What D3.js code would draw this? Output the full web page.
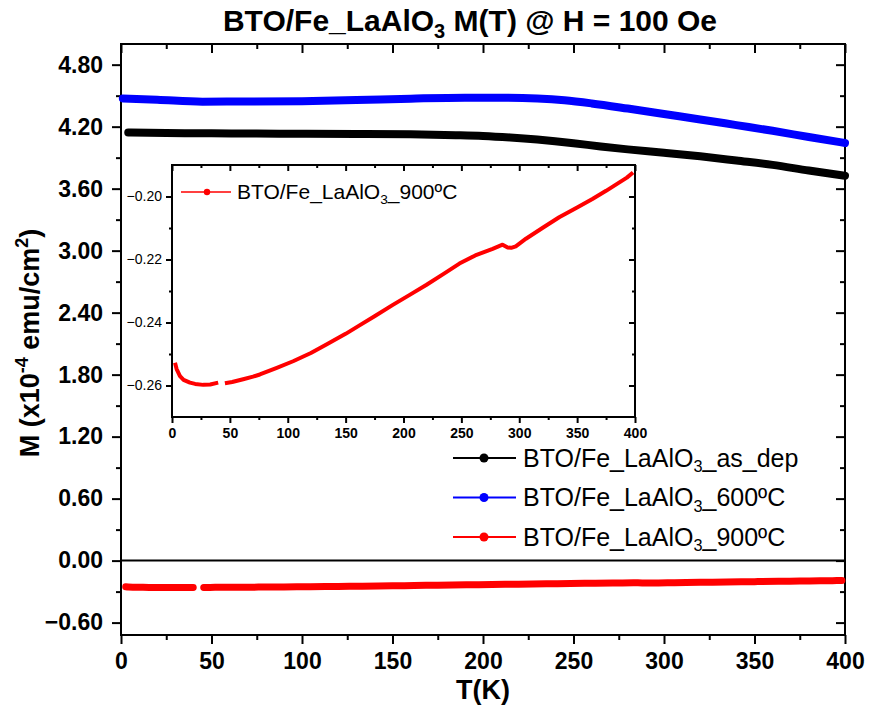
<!DOCTYPE html>
<html>
<head>
<meta charset="utf-8">
<script src="https://cdn.jsdelivr.net/npm/d3@7"></script>
<style>
  body { margin: 0; background: #fff; }
  svg { display: block; font-family: "Liberation Sans", Arial, sans-serif; }
  .axis path, .axis line { stroke: #000; stroke-width: 2; }
  .axis text { fill: #000; font-weight: bold; font-family: "Liberation Sans", Arial, sans-serif; }
</style>
</head>
<body>
<svg id="chart" width="869" height="706"></svg>
<script>
// T in K, M in x10^-4 emu/cm^2
const asDepT = [4, 25, 50, 75, 100, 130, 160, 185, 200, 215, 230, 250, 265, 280, 300, 320, 340, 360, 380, 400];
const asDepM = [4.143, 4.139, 4.135, 4.133, 4.132, 4.130, 4.126, 4.118, 4.110, 4.095, 4.075, 4.040, 4.008, 3.980, 3.948, 3.913, 3.872, 3.830, 3.775, 3.725];

const t600T = [1, 20, 45, 70, 100, 130, 160, 190, 210, 230, 245, 260, 280, 300, 320, 340, 360, 380, 400];
const t600M = [4.473, 4.461, 4.442, 4.443, 4.447, 4.458, 4.471, 4.480, 4.480, 4.472, 4.455, 4.425, 4.375, 4.322, 4.270, 4.215, 4.160, 4.100, 4.042];

// null marks the gap in the 900 ºC measurement
const t900T = [2.6, 4, 6.9, 10, 15.5, 20, 27, 33, 39.9, 42, 45.7, 52, 61.5, 70, 75.9, 90, 104.6, 120, 133.4, 150, 162, 175, 190.8, 205, 219.6, 235, 248.3, 262, 277, 285.6, 290, 293, 297, 305.8, 320, 334.5, 350, 363.2, 375, 386.2, 393, 398.3];
const t900M = [-0.2528, -0.2548, -0.2570, -0.2582, -0.2591, -0.2595, -0.2598, -0.2597, -0.2591, null, -0.2593, -0.2589, -0.2580, -0.2572, -0.2565, -0.2545, -0.2523, -0.2497, -0.2470, -0.2436, -0.2409, -0.2380, -0.2344, -0.2313, -0.2281, -0.2245, -0.2213, -0.2187, -0.2166, -0.2153, -0.2162, -0.2163, -0.2158, -0.2134, -0.2100, -0.2066, -0.2035, -0.2008, -0.1982, -0.1956, -0.1940, -0.1924];

const xTicks = [0, 50, 100, 150, 200, 250, 300, 350, 400];
const xMinor = [25, 75, 125, 175, 225, 275, 325, 375];
const yTicks = [-0.6, 0, 0.6, 1.2, 1.8, 2.4, 3.0, 3.6, 4.2, 4.8];
const yMinor = [-0.3, 0.3, 0.9, 1.5, 2.1, 2.7, 3.3, 3.9, 4.5];
const insetYTicks = [-0.26, -0.24, -0.22, -0.20];
const insetYMinor = [-0.25, -0.23, -0.21];

const seriesNames = ["as_dep", "600ºC", "900ºC"];
const seriesColors = ["#000000", "#0000ff", "#ff0000"];

const zip = (ts, ms) => ts.map((t, i) => ({ t, m: ms[i] }));
const seriesData = [zip(asDepT, asDepM), zip(t600T, t600M), zip(t900T, t900M)];

const svg = d3.select("#chart");

// main frame
const W = { left: 121, right: 845, top: 44, bottom: 635 };
const x = d3.scaleLinear().domain([0, 400]).range([W.left, W.right]);
const y = d3.scaleLinear().domain([-0.72, 5.0]).range([W.bottom, W.top]);

function drawAxes(g, xs, ys, box, opt) {
  const fmtY = d3.format(".2f");
  const add = (axis, tr) => g.append("g").attr("class", "axis").attr("transform", tr).call(axis)
    .call((s) => s.select(".domain").remove());

  // bottom and left: outward ticks with labels
  add(d3.axisBottom(xs).tickValues(opt.xTicks).tickSize(opt.major).tickPadding(opt.xPad).tickFormat(d3.format("d")), `translate(0,${box.bottom})`)
    .selectAll("text").style("font-size", opt.font + "px");
  add(d3.axisBottom(xs).tickValues(opt.xMinor).tickSize(opt.minor).tickFormat(""), `translate(0,${box.bottom})`);
  add(d3.axisLeft(ys).tickValues(opt.yTicks).tickSize(opt.major).tickPadding(opt.yPad).tickFormat(fmtY), `translate(${box.left},0)`)
    .selectAll("text").style("font-size", opt.yFont + "px").style("font-weight", opt.yWeight);
  add(d3.axisLeft(ys).tickValues(opt.yMinor).tickSize(opt.minor).tickFormat(""), `translate(${box.left},0)`);

  // top and right: inward ticks, no labels
  add(d3.axisTop(xs).tickValues(opt.xTicks).tickSize(-opt.major).tickFormat(""), `translate(0,${box.top})`);
  add(d3.axisTop(xs).tickValues(opt.xMinor).tickSize(-opt.minor).tickFormat(""), `translate(0,${box.top})`);
  add(d3.axisRight(ys).tickValues(opt.yTicks).tickSize(-opt.major).tickFormat(""), `translate(${box.right},0)`);
  add(d3.axisRight(ys).tickValues(opt.yMinor).tickSize(-opt.minor).tickFormat(""), `translate(${box.right},0)`);

  g.append("rect")
    .attr("x", box.left).attr("y", box.top)
    .attr("width", box.right - box.left).attr("height", box.bottom - box.top)
    .attr("fill", "none").attr("stroke", "#000").attr("stroke-width", 2);
}

function seriesLabel(textSel, suffix, size) {
  textSel.style("font-size", size + "px");
  textSel.append("tspan").text("BTO/Fe_LaAlO");
  textSel.append("tspan").text("3").attr("dy", size * 0.22).style("font-size", size * 0.65 + "px");
  textSel.append("tspan").text("_" + suffix).attr("dy", -size * 0.22);
}

const main = svg.append("g");
drawAxes(main, x, y, W, {
  xTicks, xMinor, yTicks, yMinor, major: 9, minor: 5, xPad: 9, yPad: 9, font: 23, yFont: 23, yWeight: "bold"
});

// zero line
main.append("line")
  .attr("x1", W.left).attr("x2", W.right)
  .attr("y1", y(0)).attr("y2", y(0))
  .attr("stroke", "#000").attr("stroke-width", 2);

const line = d3.line()
  .defined((d) => d.m != null)
  .x((d) => x(d.t))
  .y((d) => y(d.m))
  .curve(d3.curveMonotoneX);

seriesData.forEach((data, i) => {
  main.append("path")
    .datum(data)
    .attr("d", line)
    .attr("fill", "none")
    .attr("stroke", seriesColors[i])
    .attr("stroke-width", i === 2 ? 7 : 8)
    .attr("stroke-linecap", "round")
    .attr("stroke-linejoin", "round");
});

// main legend
const legend = main.append("g").attr("transform", "translate(453,458)");
seriesNames.forEach((name, i) => {
  const row = legend.append("g").attr("transform", `translate(0,${i * 39.5})`);
  row.append("line").attr("x1", 0).attr("x2", 63).attr("stroke", seriesColors[i]).attr("stroke-width", 2);
  row.append("circle").attr("cx", 31).attr("r", 4.5).attr("fill", seriesColors[i]);
  row.append("text").attr("x", 70).attr("dy", "0.35em").call(seriesLabel, name, 25);
});

// titles
svg.append("text")
  .attr("x", 470).attr("y", 31)
  .attr("text-anchor", "middle")
  .style("font-size", "30px").style("font-weight", "bold")
  .call((t) => {
    t.append("tspan").text("BTO/Fe_LaAlO");
    t.append("tspan").text("3").attr("dy", 7).style("font-size", "20px");
    t.append("tspan").text(" M(T) @ H = 100 Oe").attr("dy", -7);
  });

svg.append("text")
  .attr("x", (W.left + W.right) / 2).attr("y", 699)
  .attr("text-anchor", "middle")
  .style("font-size", "27px").style("font-weight", "bold")
  .text("T(K)");

svg.append("text")
  .attr("transform", `translate(39,343) rotate(-90)`)
  .attr("text-anchor", "middle")
  .style("font-size", "27px").style("font-weight", "bold")
  .call((t) => {
    t.append("tspan").text("M (x10");
    t.append("tspan").text("-4").attr("dy", -11).style("font-size", "18px");
    t.append("tspan").text(" emu/cm").attr("dy", 11);
    t.append("tspan").text("2").attr("dy", -11).style("font-size", "18px");
    t.append("tspan").text(")").attr("dy", 11);
  });

// inset
const I = { left: 172, right: 635, top: 165, bottom: 417 };
const ix = d3.scaleLinear().domain([0, 400]).range([I.left, I.right]);
const iy = d3.scaleLinear().domain([-0.27, -0.19]).range([I.bottom, I.top]);

const inset = svg.append("g");
inset.append("rect")
  .attr("x", I.left).attr("y", I.top)
  .attr("width", I.right - I.left).attr("height", I.bottom - I.top)
  .attr("fill", "#fff");
drawAxes(inset, ix, iy, I, {
  xTicks, xMinor, yTicks: insetYTicks, yMinor: insetYMinor, major: 6, minor: 3, xPad: 5, yPad: 4, font: 14, yFont: 14, yWeight: "normal"
});

const iline = d3.line()
  .defined((d) => d.m != null)
  .x((d) => ix(d.t))
  .y((d) => iy(d.m));

inset.append("path")
  .datum(seriesData[2])
  .attr("d", iline)
  .attr("fill", "none")
  .attr("stroke", seriesColors[2])
  .attr("stroke-width", 4)
  .attr("stroke-linejoin", "round");

const ileg = inset.append("g").attr("transform", "translate(181,192)");
ileg.append("line").attr("x1", 0).attr("x2", 50).attr("stroke", seriesColors[2]).attr("stroke-width", 1.5);
ileg.append("circle").attr("cx", 26).attr("r", 3.2).attr("fill", seriesColors[2]);
ileg.append("text").attr("x", 56).attr("dy", "0.35em").call(seriesLabel, seriesNames[2], 21);
</script>
</body>
</html>
